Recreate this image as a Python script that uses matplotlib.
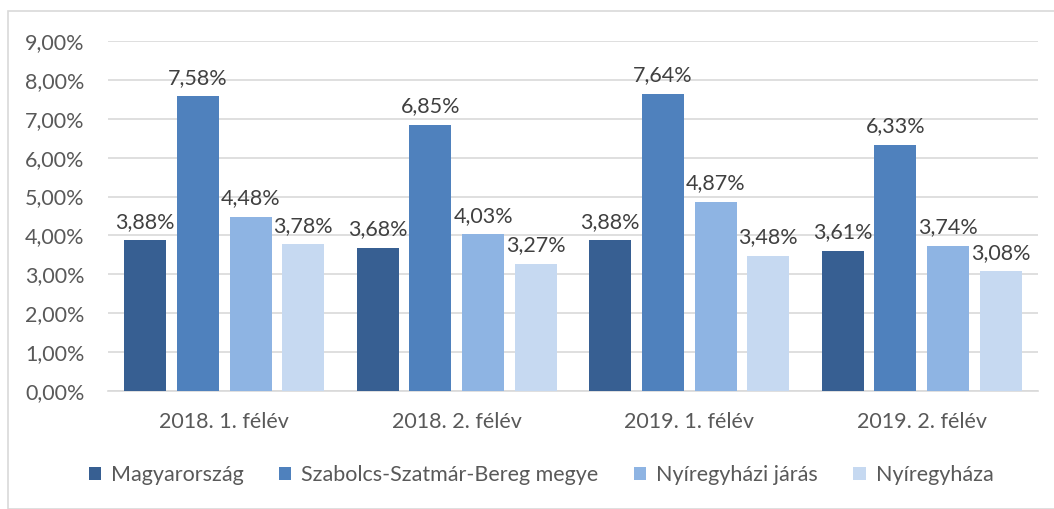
import numpy as np
import matplotlib.pyplot as plt
from matplotlib.patches import Rectangle

W, H = 1054, 509

categories = ['2018. 1. félév', '2018. 2. félév', '2019. 1. félév', '2019. 2. félév']
series = ['Magyarország', 'Szabolcs-Szatmár-Bereg megye', 'Nyíregyházi járás', 'Nyíregyháza']
values = [
    [3.88, 3.68, 3.88, 3.61],
    [7.58, 6.85, 7.64, 6.33],
    [4.48, 4.03, 4.87, 3.74],
    [3.78, 3.27, 3.48, 3.08],
]
yticks = [0, 1, 2, 3, 4, 5, 6, 7, 8, 9]
colors = ['#375F92', '#4F81BD', '#8EB4E3', '#C6D9F1']

txt = '#595959'
grid = '#D9D9D9'
fs = 15.5
plt.rcParams['font.family'] = ['Lato', 'DejaVu Sans']

fig = plt.figure(figsize=(W / 100, H / 100), dpi=100)
fig.patches.append(Rectangle((8 / W, 0), 1.2, 1 - 11 / H, transform=fig.transFigure,
                             fill=False, edgecolor=grid, linewidth=1.2))

ax = fig.add_axes([108 / W, 118 / H, 930 / W, 350 / H])
x = np.arange(len(categories))
step = 0.227
width = 0.181
for i, (name, vals) in enumerate(zip(series, values)):
    pos = x + (i - 1.5) * step
    ax.bar(pos, vals, width, color=colors[i], label=name, zorder=3)
    for px, v in zip(pos, vals):
        ax.annotate(f'{v:.2f}%'.replace('.', ','), (px, v), xytext=(0, 6),
                    textcoords='offset points', ha='center', va='bottom',
                    fontsize=fs, color='#404040')

ax.set_xlim(-0.5, 3.5)
ax.set_ylim(0, 9)
ax.set_yticks(yticks)
ax.set_yticklabels([f'{t:.2f}%'.replace('.', ',') for t in yticks])
ax.set_xticks(x)
ax.set_xticklabels(categories)
ax.tick_params(axis='both', length=0, labelsize=fs, labelcolor=txt)
ax.tick_params(axis='y', pad=17)
ax.tick_params(axis='x', pad=15)
ax.yaxis.grid(True, color=grid, linewidth=1.2, zorder=0)
for s in ['top', 'right', 'left']:
    ax.spines[s].set_visible(False)
ax.spines['bottom'].set_color(grid)
ax.spines['bottom'].set_linewidth(1.2)

leg = fig.legend(loc='center', bbox_to_anchor=(541 / W, 1 - 475 / H), ncol=4,
                 frameon=False, fontsize=fs, handlelength=0.56, handleheight=0.56,
                 handletextpad=0.47, columnspacing=1.65, labelcolor=txt)

fig.savefig('out.png', dpi=100)
